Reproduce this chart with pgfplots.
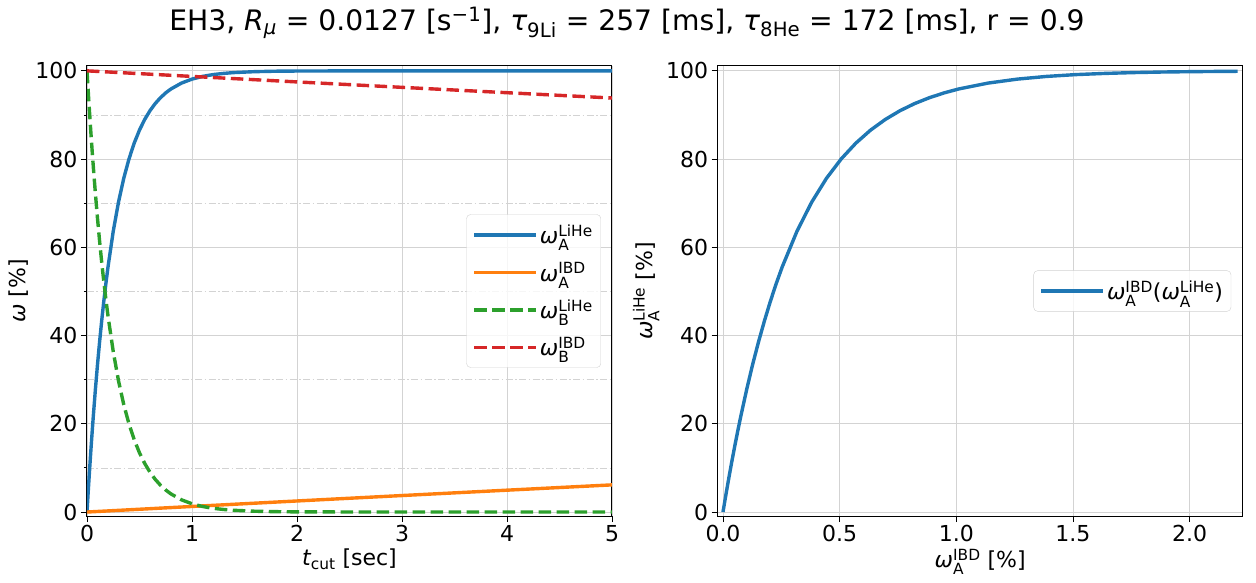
\documentclass[border=0pt]{standalone}
\usepackage{fontspec}
\setmainfont{DejaVu Sans}
\usepackage{amsmath}
\usepackage{pgfplots}
\pgfplotsset{compat=1.18}
\definecolor{cblue}{HTML}{1F77B4}
\definecolor{corange}{HTML}{FF7F0E}
\definecolor{cgreen}{HTML}{2CA02C}
\definecolor{cred}{HTML}{D62728}
\definecolor{cgrid}{HTML}{D3D3D3}
\newcommand{\om}[2]{\text{\itshape ω}^{\text{#1}}_{\text{#2}}}
\newcommand{\fs}{\fontsize{22}{26}\selectfont}
\pgfplotsset{
  every axis/.append style={
    scale only axis, width=525pt, height=450pt,
    tick align=outside, tick pos=left,
    major tick length=6pt, minor tick length=3pt,
    every tick/.style={black, line width=0.9pt},
    axis line style={black, line width=1pt},
    tick label style={font=\fs},
    label style={font=\fs},
    /pgf/number format/assume math mode=true,
    major grid style={color=cgrid, line width=0.9pt},
    minor grid style={color=cgrid, line width=0.8pt, dash pattern=on 7pt off 2.5pt on 1.5pt off 2.5pt},
    legend style={font=\fs, draw=gray!35, rounded corners=4pt, fill=white,
      fill opacity=0.8, text opacity=1, inner xsep=6pt, inner ysep=8pt,
      row sep=13pt, nodes={inner sep=2pt}},
    legend cell align=left,
    legend image code/.code={\draw[#1] (0pt,0pt) -- (48pt,0pt); \path (0pt,0pt) -- (62pt,0pt);},
  },
  lw/.style={line width=3.4pt},
  dsh/.style={dash pattern=on 12.5pt off 5.5pt},
}
\begin{document}
\begin{tikzpicture}[x=1pt,y=1pt]
\path (0,0) rectangle (1256,582);
\node[font=\fontsize{28.2}{32}\selectfont] at (627,559) {EH3, $\text{\itshape R}_{\text{\itshape μ}}$ = 0.0127 [s$^{\text{−1}}$], $\text{\itshape τ}_{\text{9Li}}$ = 257 [ms], $\text{\itshape τ}_{\text{8He}}$ = 172 [ms], r = 0.9};
\begin{axis}[at={(87pt,66pt)}, anchor=south west,
  xmin=0, xmax=5, ymin=-0.9, ymax=101.1,
  xtick={0,1,2,3,4,5}, ytick={0,20,40,60,80,100},
  minor ytick={10,30,50,70,90},
  xmajorgrids, ymajorgrids, yminorgrids,
  xlabel={$\text{\itshape t}_{\text{cut}}$ [sec]},
  ylabel={$\text{\itshape ω}$ [\%]},
  legend style={at={(rel axis cs:0.979,0.5)}, anchor=east},
]
\addplot[cblue, lw] coordinates {(0,0) (0.01,4.00) (0.02,7.84) (0.03,11.52) (0.04,15.05) (0.05,18.43) (0.06,21.69) (0.08,27.80) (0.10,33.42) (0.12,38.60) (0.14,43.37) (0.16,47.76) (0.18,51.81) (0.20,55.54) (0.25,63.64) (0.30,70.25) (0.35,75.64) (0.40,80.04) (0.45,83.64) (0.50,86.59) (0.55,89.00) (0.60,90.98) (0.65,92.60) (0.70,93.92) (0.75,95.01) (0.80,95.90) (0.90,97.23) (1.00,98.13) (1.10,98.74) (1.20,99.15) (1.30,99.42) (1.40,99.61) (1.60,99.82) (1.80,99.92) (2.00,99.96) (2.50,99.99) (3.00,100) (4.00,100) (5.00,100)};
\addlegendentry{$\om{LiHe}{A}$}
\addplot[corange, lw] coordinates {(0,0) (1,1.262) (2,2.508) (3,3.738) (4,4.954) (5,6.155)};
\addlegendentry{$\om{IBD}{A}$}
\addplot[cgreen, lw, dsh] coordinates {(0,100) (0.01,96.00) (0.02,92.16) (0.03,88.48) (0.04,84.95) (0.05,81.57) (0.06,78.31) (0.08,72.20) (0.10,66.58) (0.12,61.40) (0.14,56.63) (0.16,52.24) (0.18,48.19) (0.20,44.46) (0.25,36.36) (0.30,29.75) (0.35,24.36) (0.40,19.96) (0.45,16.36) (0.50,13.41) (0.55,11.00) (0.60,9.02) (0.65,7.40) (0.70,6.08) (0.75,4.99) (0.80,4.10) (0.90,2.77) (1.00,1.87) (1.10,1.26) (1.20,0.85) (1.30,0.58) (1.40,0.39) (1.60,0.18) (1.80,0.08) (2.00,0.04) (2.50,0.01) (3.00,0) (4.00,0) (5.00,0)};
\addlegendentry{$\om{LiHe}{B}$}
\addplot[cred, lw, dsh] coordinates {(0,100) (1,98.738) (2,97.492) (3,96.262) (4,95.046) (5,93.845)};
\addlegendentry{$\om{IBD}{B}$}
\end{axis}
\begin{axis}[at={(717.7pt,66pt)}, anchor=south west,
  xmin=-0.0227, xmax=2.2275, ymin=-0.9, ymax=101.1,
  xtick={0,0.5,1,1.5,2}, ytick={0,20,40,60,80,100},
  xticklabel style={/pgf/number format/.cd, fixed, fixed zerofill, precision=1},
  xmajorgrids, ymajorgrids,
  xlabel={$\om{IBD}{A}$ [\%]},
  ylabel={$\om{LiHe}{A}$ [\%]},
  legend style={at={(rel axis cs:0.978,0.5)}, anchor=east},
]
\addplot[cblue, lw] coordinates {(0,0) (0.0127,4.00) (0.0254,7.84) (0.0381,11.52) (0.0508,15.05) (0.0635,18.43) (0.0762,21.69) (0.1016,27.80) (0.1269,33.42) (0.1524,38.60) (0.1778,43.37) (0.2030,47.76) (0.2283,51.81) (0.2537,55.54) (0.3170,63.64) (0.3803,70.25) (0.4435,75.64) (0.5067,80.04) (0.5699,83.64) (0.6330,86.59) (0.6961,89.00) (0.7591,90.98) (0.8221,92.60) (0.8851,93.92) (0.9480,95.01) (1.0108,95.90) (1.1365,97.23) (1.2620,98.13) (1.3873,98.74) (1.5125,99.15) (1.6375,99.42) (1.7623,99.61) (1.8870,99.74) (2.0115,99.82) (2.1359,99.88) (2.2053,99.90)};
\addlegendentry{$\om{IBD}{A}\text{(}\om{LiHe}{A}\text{)}$}
\end{axis}
\end{tikzpicture}
\end{document}
